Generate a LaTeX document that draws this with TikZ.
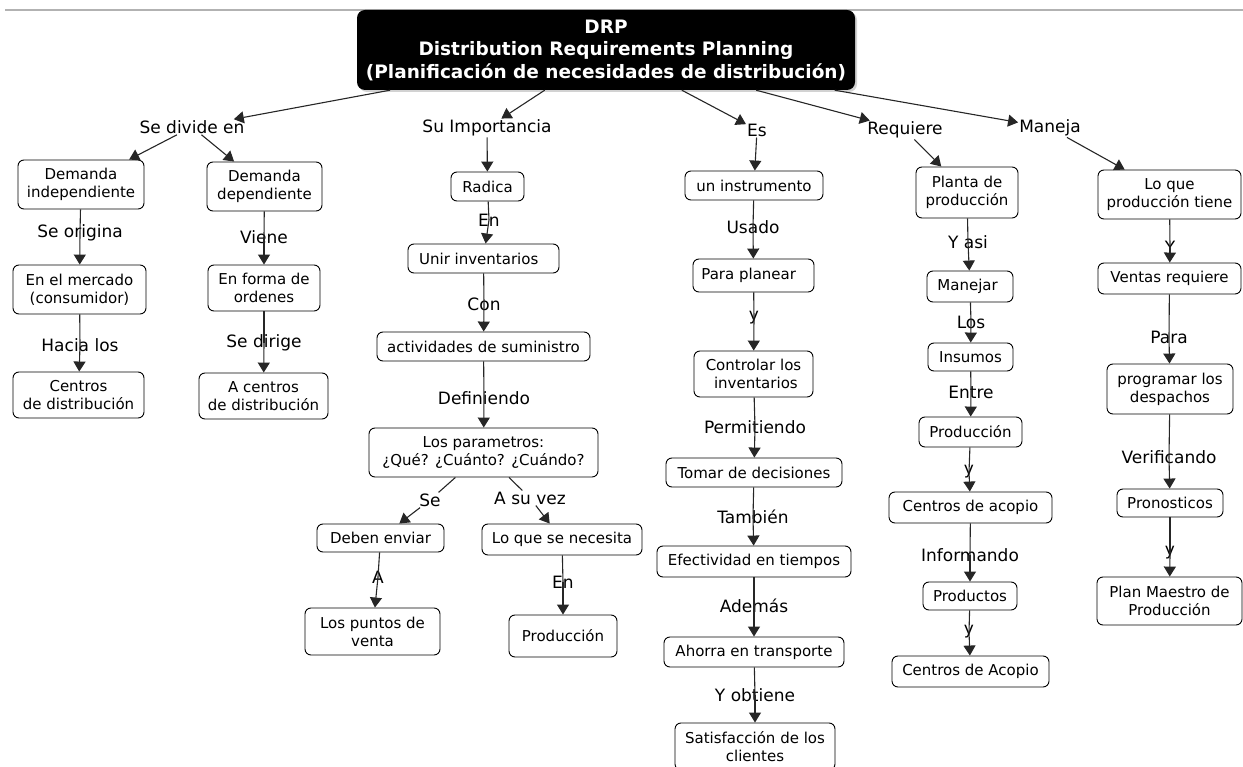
\documentclass[tikz,border=0pt]{standalone}
\usepackage{fontspec}
\setmainfont{DejaVu Sans}
\usepackage{tikz}
\usetikzlibrary{arrows.meta,shadows}

\begin{document}
\begin{tikzpicture}[
			x=1pt,y=-1pt,
			concept/.style={
				draw,
				rounded corners=6pt,
				fill=white,
				align=center,
				inner sep=1pt,
				line width=0.9pt,
				font=\fontsize{15}{18}\selectfont
			},
			boxsize/.style 2 args={minimum width=#1pt,minimum height=#2pt},
			title/.style={
				fill=black,
				text=white,
				rounded corners=8pt,
				align=center,
				inner sep=1pt,
				drop shadow={shadow xshift=2pt,shadow yshift=-2pt,fill=gray!70},
				font=\bfseries\fontsize{18.5}{22.5}\selectfont
			},
			link/.style={inner sep=1pt,font=\fontsize{17}{20}\selectfont},
			conn/.style={line width=1.1pt,black!85},
			arrow/.style={conn,-{Triangle[length=10pt,width=12pt]}}
			]
			\useasboundingbox (0,0) rectangle (1243,767);
			
			\draw[gray!60,line width=2pt] (5,10) -- (1243,10);
			
			\node[title,boxsize={498}{80}] (drp) at (606,50)
			{DRP\\Distribution Requirements Planning\\(Planificación de necesidades de distribución)};
			
			% first level
			\node[link] (divide) at (192,127) {Se divide en};
			\node[link] (importancia) at (487,128) {Su Importancia};
			\node[link] (es) at (757,130) {Es};
			\node[link] (requiere) at (905,130) {Requiere};
			\node[link] (maneja) at (1050,128) {Maneja};
			
			\foreach \t in {divide,importancia,es,requiere,maneja}
			\draw[arrow] (drp) -- (\t);
			
			% Se divide en
			\node[concept,boxsize={126}{49}] (indep) at (81,184.5) {Demanda\\independiente};
			\node[concept,boxsize={115}{49}] (dep) at (264.5,186.5) {Demanda\\dependiente};
			\draw[arrow] (divide) -- (indep);
			\draw[arrow] (divide) -- (dep);
			
			\node[link] (origina) at (80,233) {Se origina};
			\node[concept,boxsize={133}{49}] (mercado) at (79.5,289.5) {En el mercado\\(consumidor)};
			\node[link] (hacia) at (80,345) {Hacia los};
			\node[concept,boxsize={131}{46}] (centrosa) at (78.5,395) {Centros\\de distribución};
			
			\node[link] (viene) at (264,237) {Viene};
			\node[concept,boxsize={112}{46}] (ordenes) at (264,288) {En forma de\\ordenes};
			\node[link] (dirige) at (264,343) {Se dirige};
			\node[concept,boxsize={129}{46}] (centrosb) at (263.5,396) {A centros\\de distribución};
			
			% Su Importancia
			\node[concept,boxsize={73}{29}] (radica) at (487.5,186.5) {Radica};
			\draw[arrow] (importancia) -- (radica);
			\node[link] (ena) at (489,220) {En};
			\node[concept,boxsize={151}{29}] (unir) at (483.5,258.5) {Unir inventarios\ \ };
			\node[link] (con) at (484,304) {Con};
			\node[concept,boxsize={213}{29}] (activ) at (483.5,346.5) {actividades de suministro};
			\node[link] (definiendo) at (484,398) {Definiendo};
			\node[concept,boxsize={229}{49}] (param) at (483.5,452.5) {Los parametros:\\¿Qué? ¿Cuánto? ¿Cuándo?};
			\node[link] (se) at (430,500) {Se};
			\node[link] (suvez) at (530,498) {A su vez};
			\node[concept,boxsize={127}{28}] (deben) at (380.5,538) {Deben enviar};
			\node[concept,boxsize={160}{31}] (necesita) at (562,539.5) {Lo que se necesita};
			\node[link] (a) at (378,577) {A};
			\node[link] (enb) at (563,582) {En};
			\node[concept,boxsize={135}{47}] (puntos) at (372.5,631.5) {Los puntos de\\venta};
			\node[concept,boxsize={108}{42}] (produca) at (563,636) {Producción};
			
			\draw[conn] (param) -- (se);
			\draw[arrow] (se) -- (deben);
			\draw[conn] (param) -- (suvez);
			\draw[arrow] (suvez) -- (necesita);
			
			% Es
			\node[concept,boxsize={138}{29}] (instr) at (754,185.5) {un instrumento};
			\draw[arrow] (es) -- (instr);
			\node[link] (usado) at (753,227) {Usado};
			\node[concept,boxsize={121}{33}] (planear) at (753.5,275.5) {Para planear\ \ };
			\node[link] (ya) at (754,318) {y};
			\node[concept,boxsize={119}{46}] (controlar) at (753.5,374) {Controlar los\\\ inventarios};
			\node[link] (permitiendo) at (755,427) {Permitiendo};
			\node[concept,boxsize={176}{29}] (tomar) at (754,472.5) {Tomar de decisiones};
			\node[link] (tambien) at (753,517) {También};
			\node[concept,boxsize={194}{31}] (efect) at (754,561.5) {Efectividad en tiempos};
			\node[link] (ademas) at (754,606) {Además};
			\node[concept,boxsize={180}{30}] (ahorra) at (754,652) {Ahorra en transporte};
			\node[link] (obtiene) at (755,695) {Y obtiene};
			\node[concept,boxsize={160}{47}] (satisf) at (755,746.5) {Satisfacción de los\\clientes};
			
			% Requiere
			\node[concept,boxsize={102}{51}] (planta) at (967,192.5) {Planta de\\producción};
			\draw[arrow] (requiere) -- (planta);
			\node[link] (asi) at (968,242) {Y asi};
			\node[concept,boxsize={86}{31}] (manejar) at (970,286.5) {Manejar\ };
			\node[link] (los) at (971,322) {Los};
			\node[concept,boxsize={85}{28}] (insumos) at (970.5,357) {Insumos};
			\node[link] (entre) at (971,392) {Entre};
			\node[concept,boxsize={103}{30}] (producb) at (970.5,432) {Producción};
			\node[link] (yb) at (969,472) {y};
			\node[concept,boxsize={163}{31}] (acopioa) at (970.5,507.5) {Centros de acopio};
			\node[link] (informando) at (970,555) {Informando};
			\node[concept,boxsize={94}{28}] (productos) at (970,596) {Productos};
			\node[link] (yc) at (969,632) {y};
			\node[concept,boxsize={157}{31}] (acopiob) at (970.5,671.5) {Centros de Acopio};
			
			% Maneja
			\node[concept,boxsize={143}{49}] (tiene) at (1169.5,194.5) {Lo que\\producción tiene};
			\draw[arrow] (maneja) -- (tiene);
			\node[link] (yd) at (1170,247) {Y};
			\node[concept,boxsize={143}{31}] (ventas) at (1169.5,278.5) {Ventas requiere};
			\node[link] (para) at (1169,337) {Para};
			\node[concept,boxsize={126}{50}] (despachos) at (1170,389) {programar los\\despachos};
			\node[link] (verificando) at (1169,457) {Verificando};
			\node[concept,boxsize={106}{28}] (pronost) at (1170,503) {Pronosticos};
			\node[link] (ye) at (1170,553) {y};
			\node[concept,boxsize={145}{48}] (plan) at (1169.5,601) {Plan Maestro de\\Producción};
			
			% vertical links, box -- phrase -> box
			\foreach \p/\l/\n in {indep/origina/mercado,mercado/hacia/centrosa,
				dep/viene/ordenes,ordenes/dirige/centrosb,
				radica/ena/unir,unir/con/activ,activ/definiendo/param,
				deben/a/puntos,necesita/enb/produca,
				instr/usado/planear,planear/ya/controlar,controlar/permitiendo/tomar,
				tomar/tambien/efect,efect/ademas/ahorra,ahorra/obtiene/satisf,
				planta/asi/manejar,manejar/los/insumos,insumos/entre/producb,
				producb/yb/acopioa,acopioa/informando/productos,productos/yc/acopiob,
				tiene/yd/ventas,ventas/para/despachos,despachos/verificando/pronost,
				pronost/ye/plan}
			{
				\draw[conn] (\p) -- (\l.center);
				\draw[arrow] (\l.center) -- (\n);
			}
			
		\end{tikzpicture}
\end{document}
